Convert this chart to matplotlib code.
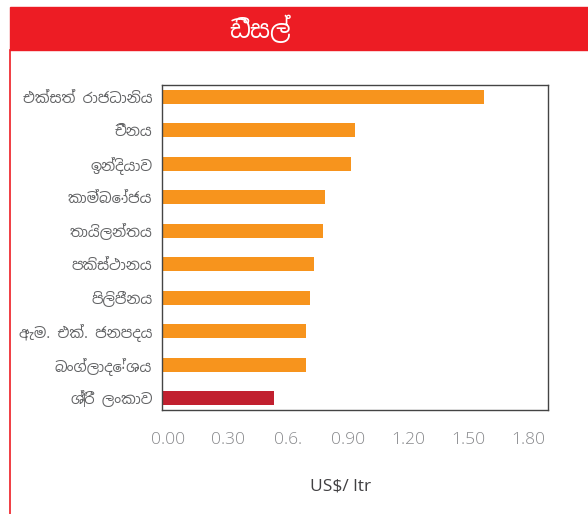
import matplotlib
matplotlib.use("Agg")
from matplotlib import pyplot as plt
from matplotlib.patches import Rectangle
from matplotlib.lines import Line2D
import numpy as np

# data (US$ per litre, diesel)
countries = ["එක්සත් රාජධානිය", "චීනය", "ඉන්දියාව", "කාම්බෝජය", "තායිලන්තය",
             "පකිස්ථානය", "පිලිපීනය", "ඇම. එක්. ජනපදය", "බංග්ලාදේශය", "ශ්‍රී ලංකාව"]
prices = [1.50, 0.90, 0.88, 0.76, 0.75, 0.71, 0.69, 0.67, 0.67, 0.52]
tick_values = [0.0, 0.3, 0.6, 0.9, 1.2, 1.5, 1.8]
tick_labels = ["0.00", "0.30", "0.6.", "0.90", "1.20", "1.50", "1.80"]
title = "ඩීසල්"
x_title = "US$/ ltr"

ORANGE = "#F7941D"
DARKRED = "#C1202F"
RED = "#ED1C24"
SIN = ["Noto Sans Sinhala", "DejaVu Sans"]

fig = plt.figure(figsize=(5.88, 5.14), dpi=100)

# header band and left rule
fig.patches.append(Rectangle((10 / 588, 1 - 50 / 514), 1 - 10 / 588, 43 / 514,
                             transform=fig.transFigure, color=RED, zorder=0))
fig.lines.append(Line2D([10 / 588, 10 / 588], [0, 1 - 50 / 514], transform=fig.transFigure,
                        color=RED, lw=1.2))
fig.text(260 / 588, 1 - 30 / 514, title, family=SIN, fontsize=17.5, fontweight="bold",
         color="white", ha="center", va="center")

ax = fig.add_axes([162 / 588, 1 - 410 / 514, 386 / 588, 325 / 514])
y = np.arange(len(countries))
colors = [ORANGE] * (len(countries) - 1) + [DARKRED]
ax.barh(y, prices, height=0.42, color=colors)
ax.set_xlim(0, 1.8)
ax.set_ylim(len(countries) - 1 + 0.36, -0.36)
ax.set_yticks(y)
ax.set_yticklabels(countries, family=SIN, fontsize=10.5, color="#636466")
ax.set_xticks([])
ax.tick_params(axis="y", length=0, pad=7)
for s in ax.spines.values():
    s.set_color("#444444")
    s.set_linewidth(1.0)

# tick labels sit on a slightly narrower scale than the frame in the reference
ax2 = fig.add_axes([168 / 588, 1 - 410 / 514, 360 / 588, 0.0001])
ax2.set_xlim(0, 1.8)
ax2.set_xticks(tick_values)
ax2.set_xticklabels(tick_labels, family="Open Sans", fontweight="light", fontsize=12.5,
                    color="#88898C")
ax2.tick_params(axis="x", length=0, pad=16)
ax2.set_yticks([])
for s in ax2.spines.values():
    s.set_visible(False)
ax2.patch.set_visible(False)

fig.text(341 / 588, 1 - 487 / 514, x_title, family="Open Sans", fontsize=12.5,
         color="#414042", ha="center", va="center")

fig.savefig("out.png", dpi=100)
